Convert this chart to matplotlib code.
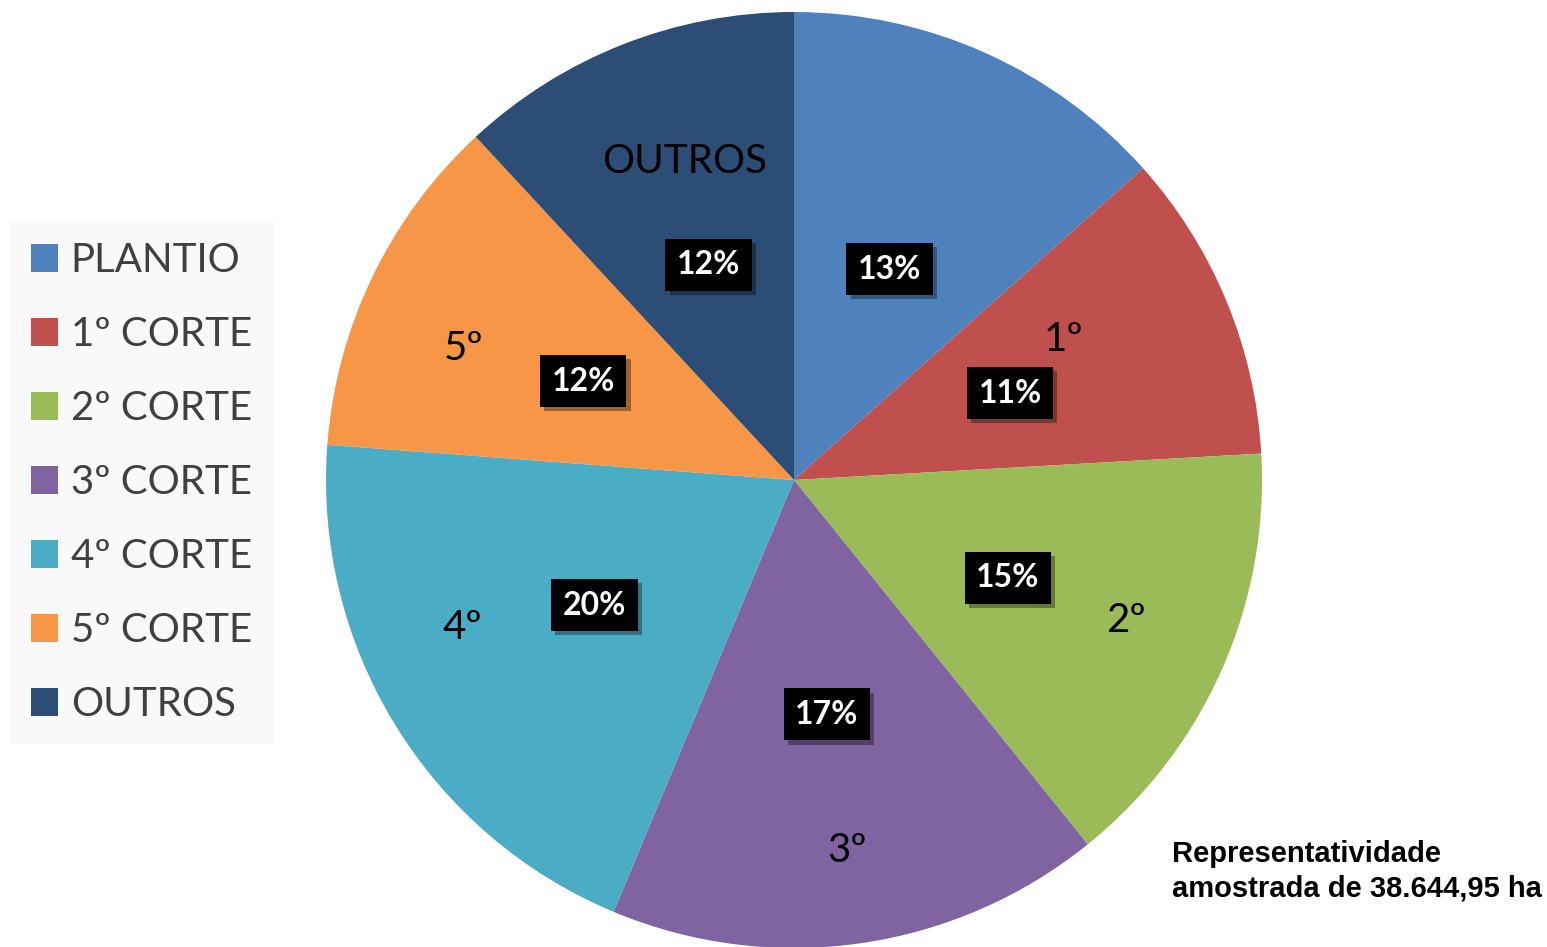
import matplotlib.pyplot as plt
import matplotlib.patheffects as pe
from matplotlib.patches import Patch
import numpy as np

# Data
categories = ["PLANTIO", "1º CORTE", "2º CORTE", "3º CORTE", "4º CORTE", "5º CORTE", "OUTROS"]
slice_names = ["", "1º", "2º", "3º", "4º", "5º", "OUTROS"]
shares = [13.4, 10.7, 15.1, 17.1, 19.9, 11.9, 11.9]
pct_labels = ["13%", "11%", "15%", "17%", "20%", "12%", "12%"]
colors = ["#4F81BD", "#C0504D", "#9BBB59", "#8064A2", "#4BACC6", "#F79646", "#2C4D75"]
note = "Representatividade\namostrada de 38.644,95 ha"

# where the category names sit (fraction of radius) and small angle nudges (deg)
name_radius = [0.75, 0.65, 0.77, 0.80, 0.776, 0.76, 0.72]
name_nudge = [0, -5, -1, 0, 7.5, -4, 2.5]

plt.rcParams["font.family"] = ["Lato", "DejaVu Sans"]

fig = plt.figure(figsize=(15.47, 9.47), dpi=100)
ax = fig.add_axes([326 / 1547, -1 / 947, 936 / 1547, 936 / 947])

wedges, _ = ax.pie(shares, colors=colors, startangle=90, counterclock=False,
                   radius=1.0, wedgeprops=dict(linewidth=0))
ax.set_xlim(-1, 1)
ax.set_ylim(-1, 1)
ax.set_aspect("equal")
ax.axis("off")

shadow = [pe.SimplePatchShadow(offset=(3, -3), shadow_rgbFace="#000000", alpha=0.35), pe.Normal()]

for i, w in enumerate(wedges):
    mid = np.deg2rad((w.theta1 + w.theta2) / 2)
    # percentage boxes
    x, y = 0.5 * np.cos(mid), 0.5 * np.sin(mid) - 0.006
    t = ax.text(x, y, pct_labels[i], ha="center", va="center", color="white",
                fontsize=23, fontweight="bold",
                bbox=dict(boxstyle="square,pad=0.36", facecolor="black", edgecolor="none"))
    t.get_bbox_patch().set_path_effects(shadow)
    # category names
    if slice_names[i]:
        a = mid - np.deg2rad(name_nudge[i])
        r = name_radius[i]
        ax.text(r * np.cos(a), r * np.sin(a), slice_names[i], ha="center", va="center",
                color="black", fontsize=29)

handles = [Patch(facecolor=c, edgecolor="none") for c in colors]
leg = fig.legend(handles, categories, loc="upper left", bbox_to_anchor=(10 / 1547, 1 - 221 / 947),
                 frameon=True, fontsize=29, labelcolor="#404040",
                 handlelength=0.67, handleheight=0.67, handletextpad=0.32,
                 labelspacing=0.92, borderpad=0.52, borderaxespad=0)
leg.get_frame().set_facecolor("#F8F8F8")
leg.get_frame().set_edgecolor("none")
leg.get_frame().set_boxstyle("square", pad=0)

fig.text(1172 / 1547, 1 - 871 / 947, note, ha="left", va="center", fontsize=21,
         fontweight="bold", family="Liberation Sans", linespacing=1.3)

fig.savefig("out.png", dpi=100)
